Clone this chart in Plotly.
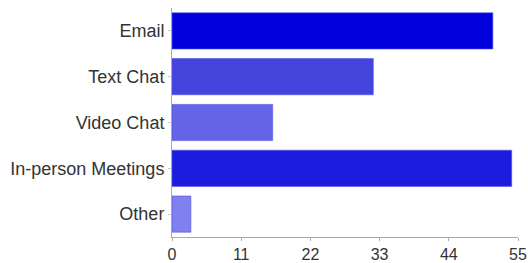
import plotly.graph_objects as go

categories = ["Email", "Text Chat", "Video Chat", "In-person Meetings", "Other"]
values = [51, 32, 16, 54, 3]
colors = ["#0000dd", "#4444dd", "#6464e6", "#1c1cdf", "#8080ee"]
tick_vals = [0, 11, 22, 33, 44, 55]

fig = go.Figure(go.Bar(
    x=values, y=categories, orientation="h",
    marker=dict(color=colors, line=dict(color="rgba(80,80,230,0.6)", width=1)),
))
fig.update_layout(
    width=528, height=263,
    margin=dict(l=172, r=10, t=8, b=26, autoexpand=False),
    paper_bgcolor="white", plot_bgcolor="white",
    bargap=0.21,
    font=dict(family="Liberation Sans, Arial, sans-serif", size=18, color="#333333"),
    showlegend=False,
)
fig.update_xaxes(
    range=[0, 55], tickvals=tick_vals, showgrid=False, zeroline=False,
    showline=True, linecolor="#aaaaaa", linewidth=1, automargin=False,
    ticks="outside", ticklen=3, tickcolor="#aaaaaa",
    tickfont=dict(size=16, color="#333333"),
)
fig.update_yaxes(
    categoryorder="array", categoryarray=categories[::-1],
    showgrid=False, zeroline=False, automargin=False,
    showline=True, linecolor="#aaaaaa", linewidth=1,
    ticks="outside", ticklen=3, tickcolor="#cccccc",
    tickfont=dict(size=18, color="#333333"),
)
fig.write_html(
    "out.html",
    config={"displayModeBar": False},
    post_script="document.body.style.margin='0';document.body.style.overflow='hidden';",
)
